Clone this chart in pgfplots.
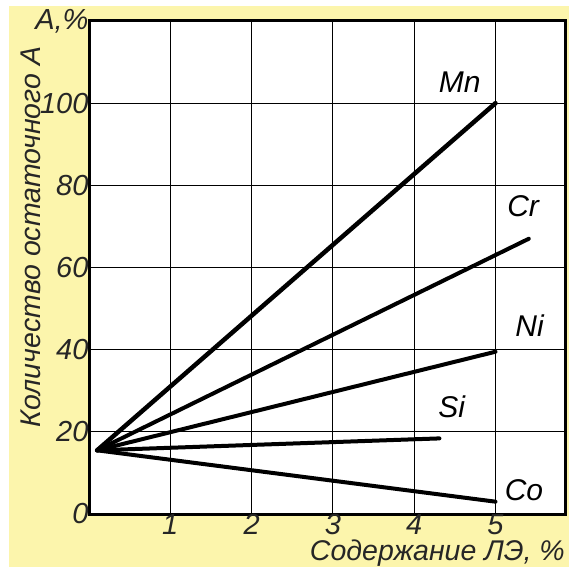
\documentclass[border=0pt]{standalone}
\usepackage{fontspec}
\setmainfont{Liberation Sans}
\usepackage{pgfplots}
\pgfplotsset{compat=1.18}
\definecolor{bgy}{RGB}{252,245,172}
\begin{document}
\begin{tikzpicture}[x=1pt,y=1pt]
\clip (0,0) rectangle (569,567);
\fill[white] (0,0) rectangle (569,567);
\fill[bgy] (9,0) rectangle (569,561);
\begin{axis}[at={(89pt,53pt)}, anchor=south west, scale only axis,
  width=476pt, height=493pt,
  xmin=0, xmax=5.855, ymin=0, ymax=120,
  xtick={1,2,3,4,5}, xticklabels={1,2,3,4,5},
  ytick={0,20,40,60,80,100,120}, yticklabels={0,20,40,60,80,100,{A,\%}},
  /pgf/number format/assume math mode=true,
  grid=major, major grid style={black, line width=1.1pt},
  axis line style={line width=3pt},
  tick style={draw=none},
  tick label style={font=\fontsize{29}{32}\selectfont\itshape, text=black!85},
  xticklabel style={yshift=1pt, inner sep=1pt},
  yticklabel style={xshift=3pt},
  axis background/.style={fill=white},
  clip=false]
\addplot[black, line width=4.5pt, line cap=round] coordinates {(0.1,15.5) (5,100)};
\addplot[black, line width=4pt, line cap=round] coordinates {(0.1,15.5) (5.41,67)};
\addplot[black, line width=4pt, line cap=round] coordinates {(0.1,15.5) (5,39.5)};
\addplot[black, line width=4pt, line cap=round] coordinates {(0.1,15.5) (4.31,18.4)};
\addplot[black, line width=4pt, line cap=round] coordinates {(0.1,15.5) (5,3)};
\node[font=\fontsize{30}{32}\selectfont\itshape] at (axis cs:4.56,105) {Mn};
\node[font=\fontsize{30}{32}\selectfont\itshape] at (axis cs:5.34,75) {Cr};
\node[font=\fontsize{30}{32}\selectfont\itshape] at (axis cs:5.42,45.8) {Ni};
\node[font=\fontsize{30}{32}\selectfont\itshape] at (axis cs:4.46,26) {Si};
\node[font=\fontsize{30}{32}\selectfont\itshape] at (axis cs:5.35,5.9) {Co};
\end{axis}
\node[font=\fontsize{29}{32}\selectfont\itshape, text=black!85, inner sep=1pt] at (578,34) {6};
\node[font=\fontsize{28.5}{30}\selectfont\itshape, text=black!85, rotate=90] at (31,330) {Количество остаточного А};
\node[font=\fontsize{28.5}{30}\selectfont\itshape, text=black!85, anchor=mid east, inner sep=0pt] at (565,9) {Содержание ЛЭ, \%};
\end{tikzpicture}
\end{document}
